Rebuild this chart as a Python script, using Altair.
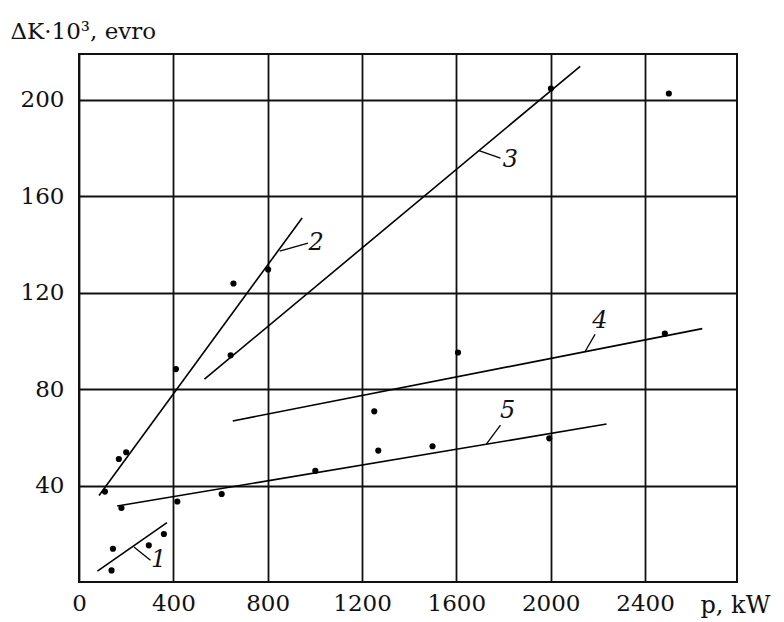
import altair as alt
import pandas as pd

# scatter points (p in kW, dK*10^3 in evro), grouped by curve
pt_x = [138, 144, 296, 360,
        110, 169, 200, 411, 655, 802,
        643, 2001, 2501,
        1252, 1607, 2484,
        180, 417, 605, 1002, 1269, 1499, 1994]
pt_y = [4.8, 13.8, 15.2, 19.9,
        37.5, 51, 53.8, 88.3, 123.8, 129.6,
        94.0, 204.7, 202.6,
        70.8, 95.2, 103,
        30.7, 33.4, 36.5, 46.1, 54.5, 56.3, 59.6]

# fitted lines 1..5
line_id = ["1", "2", "3", "4", "5"]
line_x1 = [78, 85, 532, 652, 162]
line_y1 = [4.5, 35.9, 84.1, 66.8, 31.5]
line_x2 = [373, 946, 2125, 2643, 2237]
line_y2 = [24.6, 151, 213.9, 105.1, 65.5]

# leader strokes and curve labels
lead_x1 = [233, 851, 1696, 2146, 1728]
lead_y1 = [14.5, 137.2, 178.9, 95.6, 57.3]
lead_x2 = [303, 971, 1787, 2188, 1787]
lead_y2 = [9, 140.6, 175.8, 102.7, 65.1]
lab_x = [338, 1006, 1829, 2209, 1818]
lab_y = [9, 140.6, 175, 108.2, 71]

x_ticks = [0, 400, 800, 1200, 1600, 2000, 2400]
y_ticks = [40, 80, 120, 160, 200]

pts = pd.DataFrame({"x": pt_x, "y": pt_y})
lines = pd.DataFrame({"id": line_id, "x": line_x1, "y": line_y1, "x2": line_x2, "y2": line_y2})
leads = pd.DataFrame({"id": line_id, "x": lead_x1, "y": lead_y1, "x2": lead_x2, "y2": lead_y2})
labs = pd.DataFrame({"id": line_id, "x": lab_x, "y": lab_y})

FONT = "DejaVu Serif"
xs = alt.Scale(domain=[0, 2790], nice=False, zero=False)
ys = alt.Scale(domain=[0, 219], nice=False, zero=False)

xaxis = alt.Axis(values=x_ticks, format="d", title="p, kW", titleAngle=0, titleX=621, titleY=30,
                 titleAlign="left", titleBaseline="alphabetic", titleFont=FONT,
                 titleFontSize=24, titleFontWeight="normal", titleColor="#111",
                 labelFont=FONT, labelFontSize=23, labelColor="#111", labelPadding=10,
                 ticks=False, domain=False, grid=True, gridColor="#111", gridWidth=1.8,
                 gridOpacity=1, labelFlush=False, labelOverlap=False)
yaxis = alt.Axis(values=y_ticks, format="d", title="ΔK·10³, evro", titleAngle=0, titleX=-69, titleY=-16,
                 titleAlign="left", titleBaseline="alphabetic", titleFont=FONT,
                 titleFontSize=23, titleFontWeight="normal", titleColor="#111",
                 labelFont=FONT, labelFontSize=23, labelColor="#111", labelPadding=15,
                 ticks=False, domain=False, grid=True, gridColor="#111", gridWidth=1.8,
                 gridOpacity=1, labelFlush=False, labelOverlap=False)

base_pts = alt.Chart(pts).mark_circle(size=38, color="#000", opacity=1).encode(
    x=alt.X("x:Q", scale=xs, axis=xaxis),
    y=alt.Y("y:Q", scale=ys, axis=yaxis),
)

rules = alt.Chart(lines).mark_rule(color="#000", strokeWidth=1.6).encode(
    x=alt.X("x:Q", scale=xs), y=alt.Y("y:Q", scale=ys), x2="x2:Q", y2="y2:Q"
)

leaders = alt.Chart(leads).mark_rule(color="#000", strokeWidth=1.3).encode(
    x=alt.X("x:Q", scale=xs), y=alt.Y("y:Q", scale=ys), x2="x2:Q", y2="y2:Q"
)

labels = alt.Chart(labs).mark_text(font=FONT, fontSize=24, fontStyle="italic",
                                   align="center", baseline="middle", color="#111").encode(
    x=alt.X("x:Q", scale=xs), y=alt.Y("y:Q", scale=ys), text="id:N"
)

chart = alt.layer(rules, leaders, base_pts, labels).properties(
    width=658, height=528,
    autosize=alt.AutoSizeParams(type="none"),
    padding={"left": 71, "top": 46, "right": 39, "bottom": 40},
    background="white",
).configure_view(stroke="#111", strokeWidth=2)

chart.save("out.html", embed_options={"renderer": "svg", "actions": False})
